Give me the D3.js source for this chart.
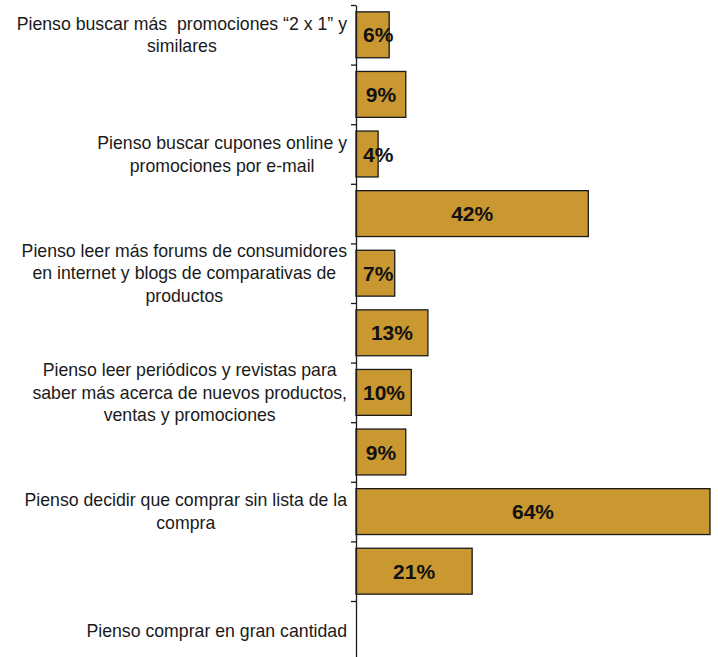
<!DOCTYPE html>
<html>
<head>
<meta charset="utf-8">
<script src="https://cdn.jsdelivr.net/npm/d3@7"></script>
<style>
  html, body { margin: 0; padding: 0; background: #fff; }
  svg { display: block; }
  text { font-family: "Liberation Sans", Arial, sans-serif; }
</style>
</head>
<body>
<svg id="chart" width="718" height="657"></svg>
<script>
// Survey answers: one row per statement (only every other row carries a printed label)
const categoryLines = [
  ["Pienso buscar más  promociones “2 x 1” y", "similares"],
  [],
  ["Pienso buscar cupones online y", "promociones por e-mail"],
  [],
  ["Pienso leer más forums de consumidores", "en internet y blogs de comparativas de", "productos"],
  [],
  ["Pienso leer periódicos y revistas para", "saber más acerca de nuevos productos,", "ventas y promociones"],
  [],
  ["Pienso decidir que comprar sin lista de la", "compra"],
  [],
  ["Pienso comprar en gran cantidad"]
];
// Percentage per row (null = no bar)
const values = [6, 9, 4, 42, 7, 13, 10, 9, 64, 21, null];

const svg = d3.select("#chart");
const axisX = 356;
const plotTop = 5;
const step = 59.6;
const n = values.length;

const x = d3.scaleLinear().domain([0, 64]).range([axisX, 710]);
const rows = d3.range(n);
const y = d3.scaleBand()
  .domain(rows)
  .range([plotTop, plotTop + n * step])
  .paddingInner(0.23)
  .paddingOuter(0.115);
const boundary = d3.scaleLinear().domain([0, n]).range([plotTop, plotTop + n * step]);

// Bars
const bars = svg.append("g");
bars.selectAll("rect")
  .data(rows.filter(i => values[i] != null))
  .join("rect")
  .attr("x", x(0))
  .attr("y", i => y(i))
  .attr("width", i => x(values[i]) - x(0))
  .attr("height", y.bandwidth())
  .attr("fill", "#CA9830")
  .attr("stroke", "#1a1a1a")
  .attr("stroke-width", 1.3);

// Value labels, centred in the bar but kept clear of the axis
const labels = svg.append("g")
  .attr("font-size", "21px")
  .attr("font-weight", "bold")
  .attr("fill", "#111")
  .attr("text-anchor", "middle");
labels.selectAll("text")
  .data(rows.filter(i => values[i] != null))
  .join("text")
  .attr("y", i => y(i) + y.bandwidth() / 2 + 7.5)
  .text(i => values[i] + "%")
  .each(function (i) {
    const w = this.getComputedTextLength();
    const cx = (x(0) + x(values[i])) / 2;
    d3.select(this).attr("x", Math.max(cx, x(0) + 7 + w / 2));
  });

// Category axis with ticks on the row boundaries
const axis = d3.axisLeft(boundary)
  .tickValues(d3.range(n + 1))
  .tickFormat("")
  .tickSize(5)
  .tickSizeOuter(0);
const gAxis = svg.append("g")
  .attr("transform", `translate(${axisX},0)`)
  .call(axis);
gAxis.select(".domain").attr("stroke", "#1a1a1a").attr("stroke-width", 1.3);
gAxis.selectAll(".tick line").attr("stroke", "#1a1a1a").attr("stroke-width", 1.3);

// Category text blocks: right-aligned block, lines centred within it
const rightEdge = 347;
const lineH = 22.8;
const cat = svg.append("g")
  .attr("font-size", "17.7px")
  .attr("fill", "#1a1a1a")
  .attr("text-anchor", "middle");
rows.forEach(i => {
  const lines = categoryLines[i];
  if (!lines.length) return;
  const g = cat.append("g");
  const cy = y(i) + y.bandwidth() / 2;
  const first = cy - (lines.length - 1) * lineH / 2 + 6.2;
  const ts = g.selectAll("text")
    .data(lines)
    .join("text")
    .attr("xml:space", "preserve")
    .style("white-space", "pre")
    .attr("y", (d, k) => first + k * lineH)
    .text(d => d);
  let wMax = 0;
  ts.each(function () { wMax = Math.max(wMax, this.getComputedTextLength()); });
  ts.attr("x", rightEdge - wMax / 2);
});
</script>
</body>
</html>
